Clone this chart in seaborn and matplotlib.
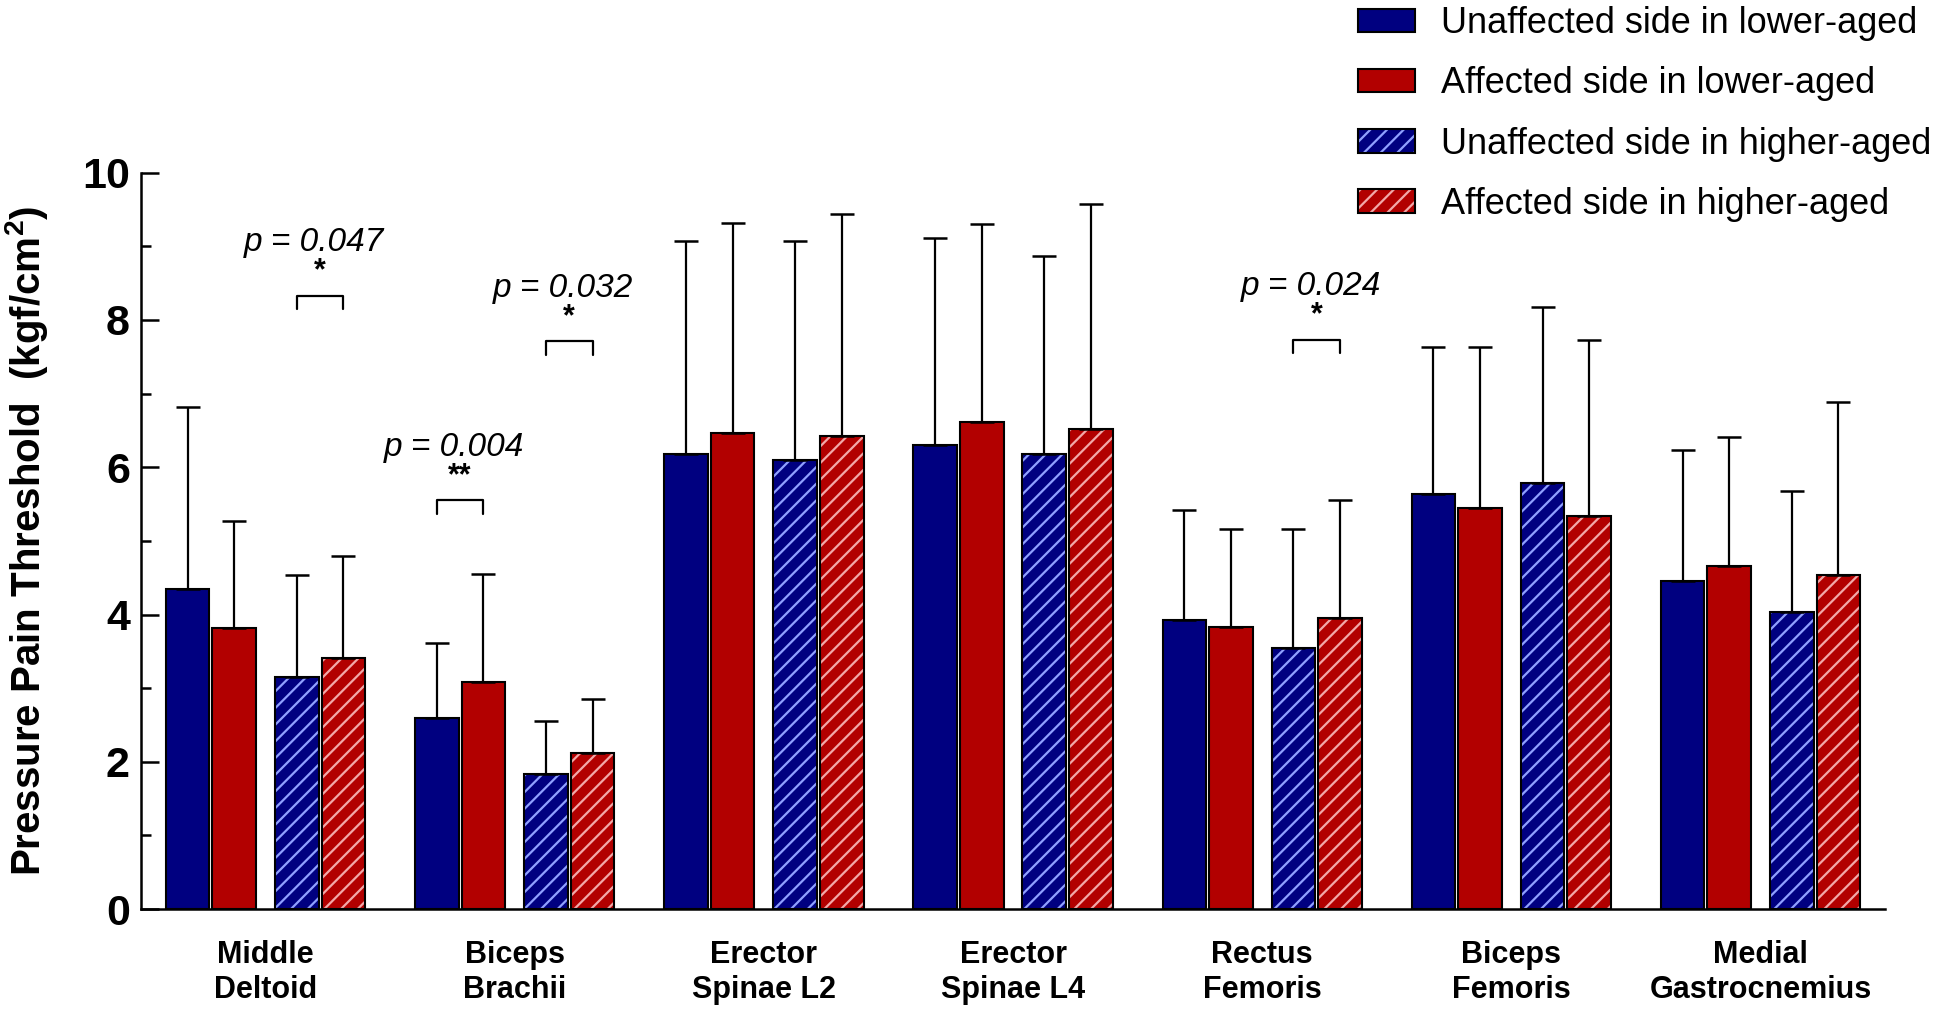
import numpy as np
import pandas as pd
import matplotlib
matplotlib.use("Agg")
import matplotlib.pyplot as plt
from matplotlib.patches import Patch, Rectangle
import seaborn as sns

# data
muscles = ["Middle\nDeltoid", "Biceps\nBrachii", "Erector\nSpinae L2", "Erector\nSpinae L4",
           "Rectus\nFemoris", "Biceps\nFemoris", "Medial\nGastrocnemius"]
groups = ["Unaffected side in lower-aged", "Affected side in lower-aged",
          "Unaffected side in higher-aged", "Affected side in higher-aged"]

unaff_low = [4.34, 2.59, 6.18, 6.30, 3.93, 5.63, 4.46]
aff_low = [3.82, 3.08, 6.46, 6.61, 3.83, 5.44, 4.66]
unaff_high = [3.15, 1.84, 6.10, 6.18, 3.55, 5.78, 4.04]
aff_high = [3.41, 2.12, 6.42, 6.52, 3.95, 5.34, 4.54]

sd_unaff_low = [2.48, 1.02, 2.89, 2.81, 1.49, 2.00, 1.78]
sd_aff_low = [1.45, 1.47, 2.86, 2.70, 1.33, 2.19, 1.75]
sd_unaff_high = [1.38, 0.71, 2.97, 2.69, 1.61, 2.40, 1.64]
sd_aff_high = [1.38, 0.73, 3.02, 3.06, 1.60, 2.39, 2.34]

# significance annotations: muscle index, pair of groups, bracket height, label, stars
sig_muscle = [0, 1, 1, 4]
sig_pair = [(2, 3), (0, 1), (2, 3), (2, 3)]
sig_height = [8.33, 5.55, 7.71, 7.73]
sig_p = ["p = 0.047", "p = 0.004", "p = 0.032", "p = 0.024"]
sig_stars = ["*", "**", "*", "*"]

means = [unaff_low, aff_low, unaff_high, aff_high]
sds = [sd_unaff_low, sd_aff_low, sd_unaff_high, sd_aff_high]

df = pd.DataFrame({
    "muscle": np.repeat([muscles], 4, axis=0).ravel(),
    "group": np.repeat(groups, len(muscles)),
    "value": np.concatenate(means),
})

colors = ["#000080", "#B20000", "#000080", "#B20000"]
hatch_cols = ["#000080", "#B20000", "#8FA0FF", "#F2A8A8"]
hatched = [False, False, True, True]

sns.set_style("ticks")
plt.rcParams["font.family"] = ["Liberation Sans", "DejaVu Sans"]
plt.rcParams["mathtext.fontset"] = "custom"
plt.rcParams["mathtext.bf"] = "Liberation Sans:bold"
plt.rcParams["hatch.linewidth"] = 1.6
for key in ["text.color", "axes.labelcolor", "xtick.color", "ytick.color", "axes.edgecolor"]:
    plt.rcParams[key] = "black"

fig = plt.figure(figsize=(19.44, 10.09), dpi=100)
ax = fig.add_axes([0.0725, 0.0991, 0.8972, 0.7297])

sns.barplot(data=df, x="muscle", y="value", hue="group", order=muscles, hue_order=groups,
            palette=colors, saturation=1, errorbar=None, width=0.8, edgecolor="black",
            linewidth=1.5, legend=False, ax=ax)

# bar layout: two pairs per muscle
bw = 0.175
offsets = [-0.3125, -0.1255, 0.1255, 0.3125]
for k, cont in enumerate(ax.containers):
    for i, bar in enumerate(cont):
        bar.set_x(i + offsets[k] - bw / 2)
        bar.set_width(bw)
        if hatched[k]:
            bar.set_hatch("//")
            bar.set_edgecolor(hatch_cols[k])
            bar.set_linewidth(0)
            ax.add_patch(Rectangle((bar.get_x(), 0), bw, bar.get_height(), fill=False,
                                   edgecolor="black", linewidth=1.5, zorder=bar.get_zorder()))

# error bars (upper only)
for k in range(4):
    xs = np.arange(len(muscles)) + offsets[k]
    ax.errorbar(xs, means[k], yerr=[np.zeros(len(muscles)), sds[k]], fmt="none",
                ecolor="black", elinewidth=1.6, capsize=8.5, capthick=1.8, zorder=1)

# significance brackets
for m, (a, b), h, p, s in zip(sig_muscle, sig_pair, sig_height, sig_p, sig_stars):
    x1, x2 = m + offsets[a], m + offsets[b]
    ax.plot([x1, x1, x2, x2], [h - 0.18, h, h, h - 0.18], color="black", lw=1.6)
    ax.text((x1 + x2) / 2, h + 0.13, s, ha="center", va="bottom", fontsize=22, fontweight="bold")
    ax.text((x1 + x2) / 2 - 0.025, h + 0.72, p, ha="center", va="center", fontsize=24, style="italic")

ax.set_xlim(-0.5, len(muscles) - 0.5)
ax.set_ylim(0, 10)
ax.set_yticks([0, 2, 4, 6, 8, 10])
ax.set_yticks([1, 3, 5, 7, 9], minor=True)
ax.tick_params(axis="y", direction="in", length=13, width=1.8, labelsize=31, pad=8)
ax.tick_params(axis="y", which="minor", direction="in", length=7, width=1.8)
ax.tick_params(axis="x", length=0, labelsize=22, pad=22)
for lab in ax.get_yticklabels():
    lab.set_fontweight("bold")
for lab in ax.get_xticklabels():
    lab.set_fontweight("bold")
    lab.set_linespacing(1.25)
ax.set_xlabel("")
ax.set_ylabel(r"Pressure Pain Threshold  (kgf/cm$^\mathbf{2}$)", fontsize=29, fontweight="bold")
ax.yaxis.set_label_coords(-0.052, 0.5)
for sp in ["left", "bottom"]:
    ax.spines[sp].set_linewidth(1.8)
sns.despine(ax=ax)

# legend
handles = []
for k in range(4):
    if hatched[k]:
        handles.append((Patch(facecolor=colors[k], edgecolor=hatch_cols[k], hatch="//", linewidth=0),
                        Patch(fill=False, edgecolor="black", linewidth=1.5)))
    else:
        handles.append(Patch(facecolor=colors[k], edgecolor="black", linewidth=1.5))
fig.legend(handles, groups, loc="upper left", bbox_to_anchor=(0.6986, 0.994), frameon=False,
           fontsize=26, handlelength=1.58, handleheight=0.63, handletextpad=0.72,
           labelspacing=0.7, borderpad=0, borderaxespad=0)

fig.savefig("out.png", dpi=100)
